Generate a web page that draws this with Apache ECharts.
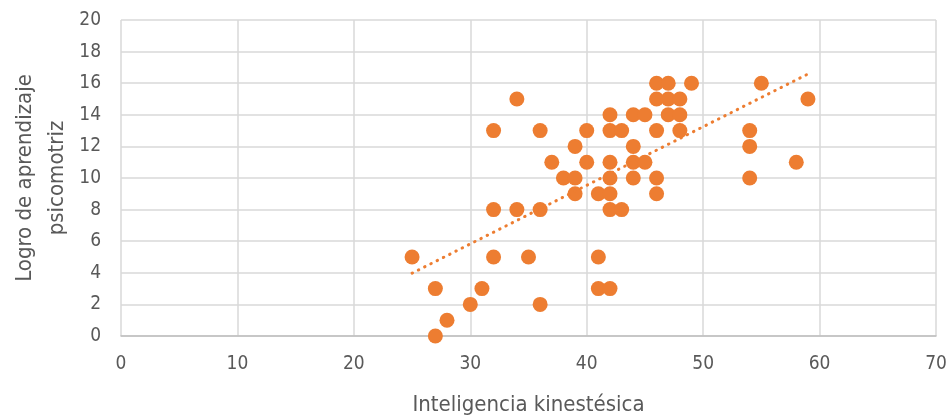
<!DOCTYPE html>
<html><head><meta charset="utf-8">
<script src="https://cdn.jsdelivr.net/npm/echarts@6/dist/echarts.min.js"></script>
<style>html,body{margin:0;padding:0;background:#fff}#c{width:949px;height:418px}</style>
</head><body><div id="c"></div>
<script>
const xTitle = 'Inteligencia kinestésica';
const yTitle = 'Logro de aprendizaje\npsicomotriz';
const xValues = [25,27,27,28,30,31,32,32,32,34,34,35,36,36,36,37,38,39,39,39,40,40,41,41,41,
  42,42,42,42,42,42,42,43,43,44,44,44,44,45,45,46,46,46,46,46,47,47,47,48,48,48,49,54,54,54,55,58,59];
const yValues = [5,3,0,1,2,3,13,8,5,15,8,5,13,8,2,11,10,12,10,9,13,11,9,5,3,
  14,13,11,10,9,8,3,13,8,14,12,11,10,14,11,16,15,13,10,9,16,15,14,15,14,13,16,13,12,10,16,11,15];

const pts = xValues.map((x,i)=>[x,yValues[i]]);
// least-squares linear trendline from the data
const n = pts.length;
let sx=0,sy=0,sxx=0,sxy=0;
pts.forEach(([x,y])=>{sx+=x;sy+=y;sxx+=x*x;sxy+=x*y;});
const slope=(n*sxy-sx*sy)/(n*sxx-sx*sx);
const icpt=(sy-slope*sx)/n;
const xMin=Math.min(...xValues), xMax=Math.max(...xValues);
const trend=[[xMin,icpt+slope*xMin],[xMax,icpt+slope*xMax]];

const font='"Liberation Sans Narrow", "DejaVu Sans Condensed", "Open Sans", sans-serif';
const chart=echarts.init(document.getElementById('c'));
chart.setOption({
  animation:false,
  grid:{left:121,right:13,top:20,bottom:82,containLabel:false,outerBoundsMode:'none'},
  xAxis:{type:'value',min:0,max:70,interval:10,
    name:xTitle,nameLocation:'middle',nameGap:58,nameMoveOverlap:false,
    nameTextStyle:{color:'#595959',fontSize:22,fontFamily:font},
    axisLine:{show:true,lineStyle:{color:'#bfbfbf',width:1.5}},
    axisTick:{show:false},
    axisLabel:{color:'#595959',fontSize:19,fontFamily:font,margin:19},
    splitLine:{show:true,lineStyle:{color:'#d9d9d9',width:1.5}}},
  yAxis:{type:'value',min:0,max:20,interval:2,
    name:yTitle,nameLocation:'middle',nameGap:48,nameMoveOverlap:false,
    nameTextStyle:{color:'#595959',fontSize:22,fontFamily:font,lineHeight:32},
    axisLine:{show:false},axisTick:{show:false},
    axisLabel:{color:'#595959',fontSize:19,fontFamily:font,margin:20},
    splitLine:{show:true,lineStyle:{color:'#d9d9d9',width:1.5}}},
  series:[
    {type:'scatter',data:pts,symbolSize:15,itemStyle:{color:'#ED7D31',opacity:1}},
    {type:'line',data:trend,symbol:'none',silent:true,
      lineStyle:{color:'#ED7D31',width:3,type:[0.5,6.5],cap:'round'}}
  ]
});
</script></body></html>
